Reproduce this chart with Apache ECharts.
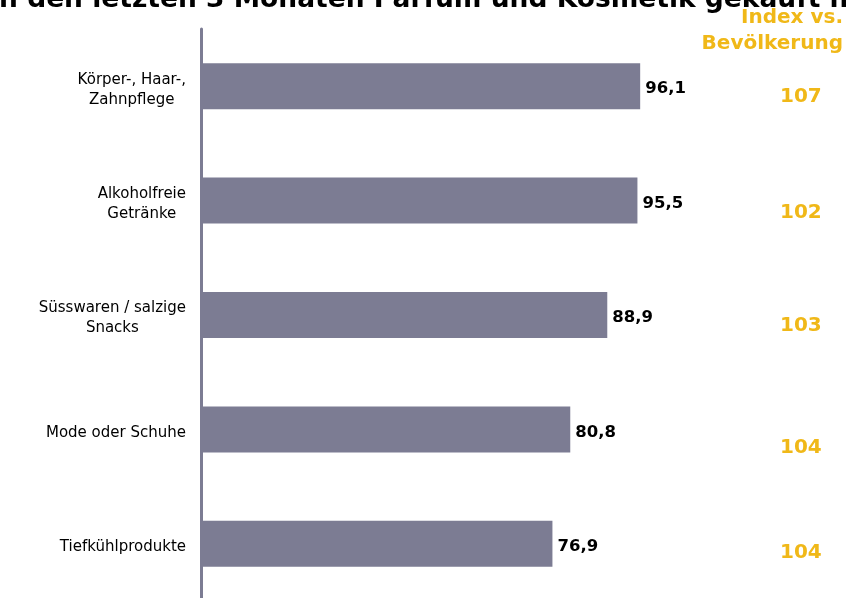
<!DOCTYPE html>
<html><head><meta charset="utf-8">
<script src="https://cdn.jsdelivr.net/npm/echarts@6/dist/echarts.min.js"></script>
<style>html,body{margin:0;padding:0;background:#fff}#c{width:846px;height:598px}</style>
</head><body><div id="c"></div>
<script>
const categories = ['Körper-, Haar-,\nZahnpflege', 'Alkoholfreie\nGetränke', 'Süsswaren / salzige\nSnacks', 'Mode oder Schuhe', 'Tiefkühlprodukte'];
const values = [96.1, 95.5, 88.9, 80.8, 76.9];
const indexValues = [107, 102, 103, 104, 104];
const indexOffsets = [11, 12, 11, 18, 9];
const titleText = 'in den letzten 3 Monaten Parfüm und Kosmetik gekauft haben';
const indexHeader = ['Index vs.', 'Bevölkerung'];

const font = 'DejaVu Sans, Verdana, sans-serif';
const indexRich = {};
indexOffsets.forEach((o, i) => {
  indexRich['p' + i] = {fontFamily: font, fontSize: 20, fontWeight: 'bold', color: '#F0B818', padding: [o * 2, 0, 0, 0]};
});
const chart = echarts.init(document.getElementById('c'));
chart.setOption({
  animation: false,
  graphic: [
    {type: 'text', left: -10, top: -13, style: {text: titleText, font: 'bold 26.5px ' + font, fill: '#000'}},
    {type: 'text', right: 3, top: 8, style: {
      text: indexHeader.map(s => '{h|' + s + '}').join('\n'),
      rich: {h: {align: 'right', fontFamily: font, fontSize: 20, fontWeight: 'bold', fill: '#F0B818', lineHeight: 26}}
    }}
  ],
  grid: {left: 201, top: 29, width: 457, height: 572, outerBoundsMode: 'none', containLabel: false},
  xAxis: {type: 'value', min: 0, max: 100, show: false},
  yAxis: [{
    type: 'category', inverse: true, data: categories,
    axisLine: {show: true, lineStyle: {color: '#7C7C93', width: 3}},
    axisTick: {show: false},
    axisLabel: {
      margin: 15, padding: [7, 0, 0, 0],
      formatter: v => v.split('\n').map(s => '{a|' + s + '}').join('\n'),
      rich: {a: {align: 'center', fontFamily: font, fontSize: 15, color: '#000', lineHeight: 20}}
    }
  }, {
    type: 'category', inverse: true, position: 'right', offset: 114,
    data: indexValues.map(String),
    axisLine: {show: false}, axisTick: {show: false},
    axisLabel: {formatter: (v, i) => '{p' + i + '|' + v + '}', rich: indexRich}
  }],
  series: [{
    type: 'bar', data: values, barWidth: 46,
    itemStyle: {color: '#7C7C93'},
    label: {show: true, position: 'right', distance: 5, offset: [0, 3], formatter: p => String(p.value).replace('.', ','),
      fontFamily: font, fontSize: 16.5, fontWeight: 'bold', color: '#000'}
  }]
});
</script></body></html>
